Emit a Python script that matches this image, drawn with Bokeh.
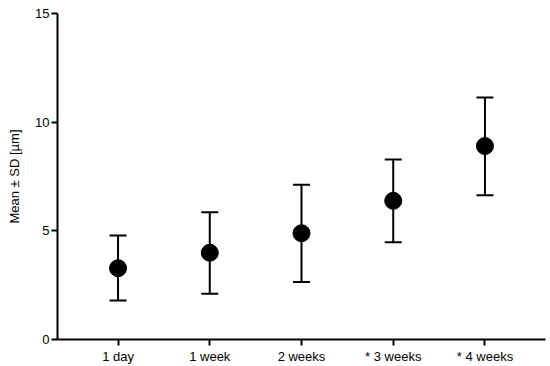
from bokeh.plotting import figure
from bokeh.models import Range1d, ColumnDataSource, Whisker, TeeHead, FixedTicker
from bokeh.embed import file_html
from bokeh.resources import INLINE

categories = ["1 day", "1 week", "2 weeks", "* 3 weeks", "* 4 weeks"]
means = [3.28, 3.99, 4.89, 6.38, 8.90]
upper = [4.79, 5.86, 7.12, 8.28, 11.14]
lower = [1.79, 2.10, 2.64, 4.48, 6.64]
y_ticks = [0, 5, 10, 15]

xs = list(range(len(categories)))
src = ColumnDataSource(dict(x=xs, m=means, u=upper, l=lower))

p = figure(width=550, height=366, output_backend="svg", toolbar_location=None,
           x_range=Range1d(-0.66, len(categories) - 1 + 0.66), y_range=Range1d(0, 15),
           min_border_left=57, min_border_right=5, min_border_top=13, min_border_bottom=27)
p.outline_line_color = None
p.xgrid.visible = False
p.ygrid.visible = False

w = Whisker(source=src, base="x", upper="u", lower="l", line_width=2, line_color="black",
            upper_head=TeeHead(size=17, line_width=2, line_color="black"),
            lower_head=TeeHead(size=17, line_width=2, line_color="black"))
p.add_layout(w)
p.scatter("x", "m", source=src, size=17, color="black")

FONT = "Liberation Sans"
for ax in (p.xaxis[0], p.yaxis[0]):
    ax.axis_line_width = 2
    ax.major_tick_line_width = 2
    ax.major_tick_out = 6
    ax.major_tick_in = 0
    ax.minor_tick_line_color = None
    ax.major_label_text_font = FONT
    ax.major_label_text_font_size = "13px"
    ax.major_label_text_color = "black"
    ax.axis_line_color = "black"
    ax.major_tick_line_color = "black"

p.xaxis.ticker = FixedTicker(ticks=xs)
p.xaxis.major_label_overrides = {i: c for i, c in enumerate(categories)}
p.xaxis.major_label_standoff = 3
p.yaxis.ticker = FixedTicker(ticks=y_ticks)
p.yaxis.major_label_standoff = 2
p.yaxis.axis_label = "Mean ± SD [µm]"
p.yaxis.axis_label_text_font = FONT
p.yaxis.axis_label_text_font_size = "13px"
p.yaxis.axis_label_text_font_style = "normal"
p.yaxis.axis_label_text_color = "black"
p.yaxis.axis_label_standoff = 10

open("out.html", "w").write(file_html(p, INLINE))
